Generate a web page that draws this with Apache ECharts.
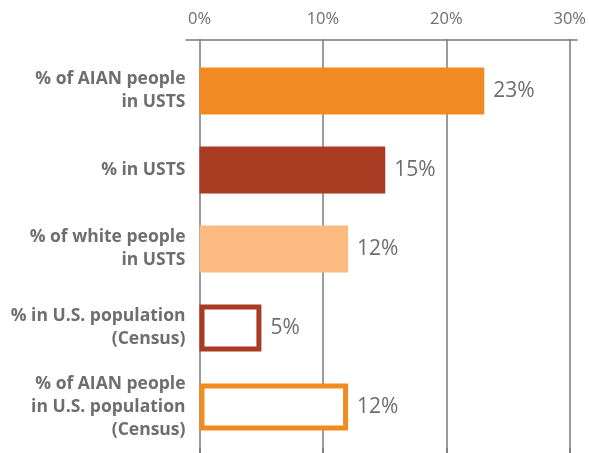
<!DOCTYPE html>
<html>
<head>
<meta charset="utf-8">
<script src="https://cdn.jsdelivr.net/npm/echarts@6/dist/echarts.min.js"></script>
<style>
  html, body { margin: 0; padding: 0; background: #fff; }
  #chart { width: 589px; height: 453px; }
</style>
</head>
<body>
<div id="chart"></div>
<script>
// Share of people in USTS vs. U.S. population (Census)
const categories = [
  '% of AIAN people\nin USTS',
  '% in USTS',
  '% of white people\nin USTS',
  '% in U.S. population\n(Census)',
  '% of AIAN people\nin U.S. population\n(Census)'
];
const values = [23, 15, 12, 5, 12];
const tickValues = [0, 10, 20, 30];

// Per-bar look: solid bars for USTS, outlined bars for Census figures
const barColors = ['#F28A22', '#A93B22', '#FBBB80', '#A93B22', '#F28A22'];
const outlined = [false, false, false, true, true];

const axisGray = '#7a7a7a';
const textGray = '#6e6e6e';
const font = '"Open Sans", Lato, sans-serif';

const barData = values.map((v, i) => ({
  value: v,
  itemStyle: outlined[i]
    ? { color: '#ffffff', borderColor: barColors[i], borderWidth: 5 }
    : { color: barColors[i] }
}));

const chart = echarts.init(document.getElementById('chart'));
chart.setOption({
  animation: false,
  grid: [
    // axis baseline, slightly wider than the value range
    { left: 186, right: 12, top: 39, height: 1 },
    // tick marks, tick labels and vertical grid lines
    { left: 199.5, right: 18, top: 39, bottom: 0 },
    // bars
    { left: 199.5, right: 18, top: 51.5, height: 395 }
  ],
  xAxis: [
    {
      gridIndex: 0, type: 'value', position: 'top', min: 0, max: 1,
      axisLine: { show: true, lineStyle: { color: axisGray, width: 1.5 } },
      axisTick: { show: false }, axisLabel: { show: false }, splitLine: { show: false }
    },
    {
      gridIndex: 1, type: 'value', position: 'top',
      min: tickValues[0], max: tickValues[tickValues.length - 1], interval: 10,
      axisLine: { show: false },
      axisTick: { show: true, length: 5, lineStyle: { color: axisGray, width: 1.5 } },
      axisLabel: {
        formatter: '{value}%', color: textGray, fontSize: 16.5, fontFamily: font,
        margin: 11
      },
      splitLine: { show: true, lineStyle: { color: axisGray, width: 1.5 } }
    },
    {
      gridIndex: 2, type: 'value', show: false,
      min: tickValues[0], max: tickValues[tickValues.length - 1]
    }
  ],
  yAxis: [
    { gridIndex: 0, type: 'value', show: false },
    { gridIndex: 1, type: 'value', show: false },
    {
      gridIndex: 2, type: 'category', inverse: true, data: categories,
      axisLine: { show: false }, axisTick: { show: false },
      axisLabel: {
        color: textGray, fontSize: 17.5, fontWeight: 'bold', fontFamily: font,
        lineHeight: 23, align: 'right', margin: 14
      }
    }
  ],
  series: [{
    type: 'bar',
    xAxisIndex: 2, yAxisIndex: 2,
    barWidth: 47,
    data: barData,
    label: {
      show: true, position: 'right', distance: 9,
      formatter: '{c}%', color: textGray, fontSize: 21, fontFamily: font
    }
  }]
});
</script>
</body>
</html>
